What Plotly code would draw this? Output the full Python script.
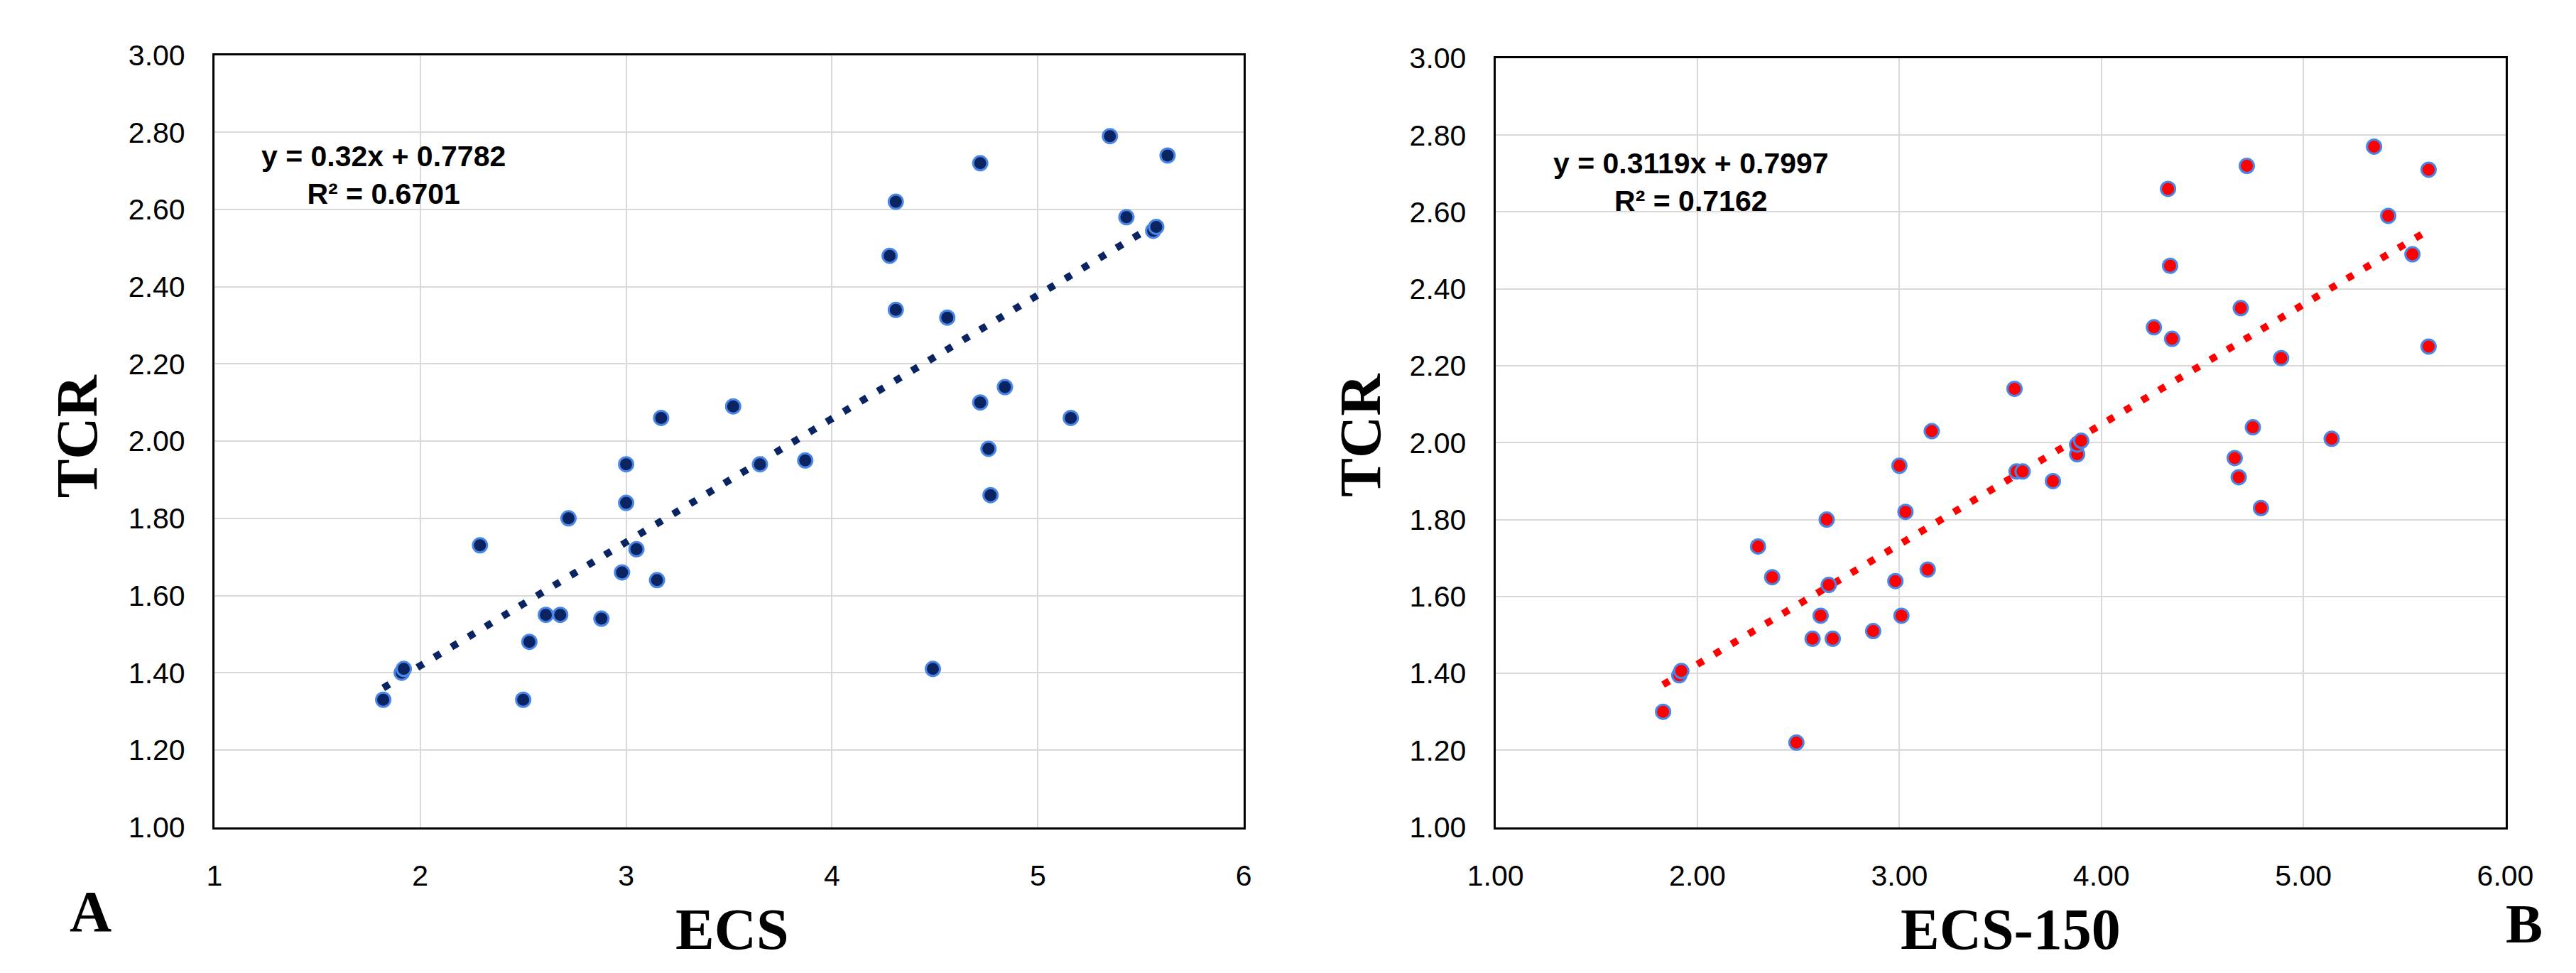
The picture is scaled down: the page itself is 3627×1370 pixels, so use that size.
import plotly.graph_objects as go

# panel A: ECS vs TCR
ecs = [1.82, 1.91, 1.92, 2.29, 2.50, 2.53, 2.61, 2.68, 2.72, 2.88, 2.98, 3.00,
       3.00, 3.05, 3.15, 3.17, 3.52, 3.65, 3.87, 4.28, 4.31, 4.31, 4.49, 4.56,
       4.72, 4.72, 4.76, 4.77, 4.84, 5.16, 5.35, 5.43, 5.56, 5.575, 5.63]
tcr_a = [1.33, 1.40, 1.41, 1.73, 1.33, 1.48, 1.55, 1.55, 1.80, 1.54, 1.66, 1.84,
         1.94, 1.72, 1.64, 2.06, 2.09, 1.94, 1.95, 2.48, 2.62, 2.34, 1.41, 2.32,
         2.72, 2.10, 1.98, 1.86, 2.14, 2.06, 2.79, 2.58, 2.545, 2.555, 2.74]

# panel B: ECS-150 vs TCR
ecs150 = [1.83, 1.91, 1.92, 2.30, 2.37, 2.49, 2.57, 2.61, 2.64, 2.65, 2.67, 2.87,
          2.98, 3.00, 3.01, 3.03, 3.14, 3.16, 3.57, 3.58, 3.61, 3.76, 3.88, 3.88,
          3.90, 4.26, 4.33, 4.34, 4.35, 4.66, 4.68, 4.69, 4.72, 4.75, 4.79, 4.89,
          5.14, 5.35, 5.42, 5.54, 5.62, 5.62]
tcr_b = [1.30, 1.395, 1.406, 1.73, 1.65, 1.22, 1.49, 1.55, 1.80, 1.63, 1.49, 1.51,
         1.64, 1.94, 1.55, 1.82, 1.67, 2.03, 2.14, 1.925, 1.925, 1.90, 1.97, 1.995,
         2.005, 2.30, 2.66, 2.46, 2.27, 1.96, 1.91, 2.35, 2.72, 2.04, 1.83, 2.22,
         2.01, 2.77, 2.59, 2.49, 2.71, 2.25]

# trendline coefficients as printed on the chart
slope_a, icpt_a, r2_a = 0.32, 0.7782, 0.6701
slope_b, icpt_b, r2_b = 0.3119, 0.7997, 0.7162

y_ticks = [1.0, 1.2, 1.4, 1.6, 1.8, 2.0, 2.2, 2.4, 2.6, 2.8, 3.0]
x_ticks = [1, 2, 3, 4, 5, 6]

W, H = 3627, 1370
navy = "#0A2461"
blue_edge = "#4A86E8"
red = "#FF0000"

fig = go.Figure()

fig.add_trace(go.Scatter(
    x=[min(ecs), max(ecs)],
    y=[slope_a * min(ecs) + icpt_a, slope_a * max(ecs) + icpt_a],
    mode="lines", line=dict(color=navy, width=10, dash="10px,18px"),
    xaxis="x", yaxis="y", hoverinfo="skip"))
fig.add_trace(go.Scatter(
    x=ecs, y=tcr_a, mode="markers",
    marker=dict(size=20, color=navy, line=dict(color=blue_edge, width=3)),
    xaxis="x", yaxis="y"))

fig.add_trace(go.Scatter(
    x=[min(ecs150), max(ecs150)],
    y=[slope_b * min(ecs150) + icpt_b, slope_b * max(ecs150) + icpt_b],
    mode="lines", line=dict(color=red, width=10, dash="10px,18px"),
    xaxis="x2", yaxis="y2", hoverinfo="skip"))
fig.add_trace(go.Scatter(
    x=ecs150, y=tcr_b, mode="markers",
    marker=dict(size=20, color=red, line=dict(color=blue_edge, width=3)),
    xaxis="x2", yaxis="y2"))

tick_font = dict(family="Liberation Sans, Arial", size=41, color="#000000")
common = dict(showline=True, mirror=True, linecolor="black", linewidth=3,
              showgrid=True, gridcolor="#D9D9D9", gridwidth=2, zeroline=False,
              ticks="", ticklabelstandoff=30, tickfont=tick_font)

fig.update_layout(
    width=W, height=H, showlegend=False,
    paper_bgcolor="white", plot_bgcolor="white",
    margin=dict(l=0, r=0, t=0, b=0),
    xaxis=dict(domain=[259.6 / W, 1741.6 / W], range=[1, 6], tickvals=x_ticks,
               tickformat="d", anchor="y", **common),
    yaxis=dict(domain=[1 - 1173 / H, 1 - 48.2 / H], range=[1, 3], tickvals=y_ticks,
               tickformat=".2f", anchor="x", **common),
    xaxis2=dict(domain=[2104 / W, 3558 / W], range=[1, 6], tickvals=x_ticks,
                tickformat=".2f", anchor="y2", **common),
    yaxis2=dict(domain=[1 - 1173 / H, 1 - 52.7 / H], range=[1, 3], tickvals=y_ticks,
                tickformat=".2f", anchor="x2", **common),
)

eq_font = dict(family="Liberation Sans, Arial", size=41, color="#000000")
fig.add_annotation(x=1.82, y=2.69, xref="x", yref="y", showarrow=False,
                   align="center", font=eq_font,
                   text=f"<b>y = {slope_a}x + {icpt_a}<br>R² = {r2_a}</b>")
fig.add_annotation(x=1.97, y=2.678, xref="x2", yref="y2", showarrow=False,
                   align="center", font=eq_font,
                   text=f"<b>y = {slope_b}x + {icpt_b}<br>R² = {r2_b}</b>")

title_font = dict(family="Liberation Serif, Times New Roman", size=82, color="#000000")
labels = [
    ("TCR", 62 / W, 1 - 604 / H, -90, 82),
    ("TCR", 1910 / W, 1 - 602 / H, -90, 82),
    ("ECS", 1005 / W, 1 - 1322 / H, 0, 82),
    ("ECS-150", 2846 / W, 1 - 1322 / H, 0, 82),
    ("A", 81 / W, 1 - 1296 / H, 0, 82),
    ("B", 3585 / W, 1 - 1314 / H, 0, 78),
]
for txt, px_, py_, ang, fs in labels:
    fig.add_annotation(x=px_, y=py_, xref="paper", yref="paper", showarrow=False,
                       xanchor="center", yanchor="middle", textangle=ang,
                       borderpad=0, text=f"<b>{txt}</b>",
                       font=dict(title_font, size=fs))

fig.write_html("out.html")
